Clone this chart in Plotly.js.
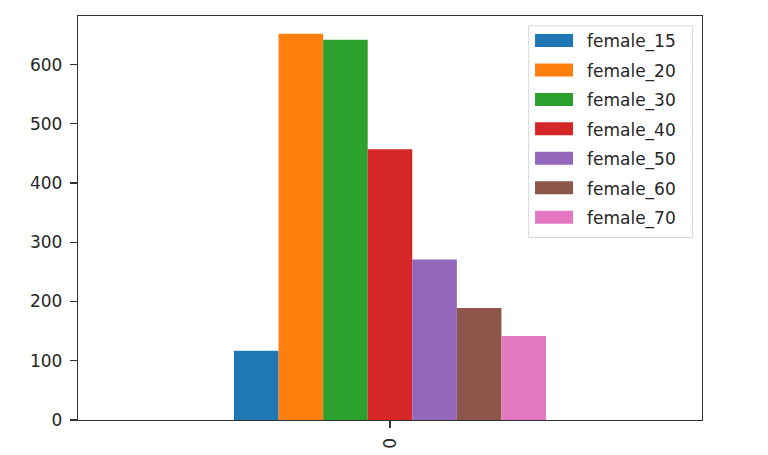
<!DOCTYPE html>
<html>
<head>
<meta charset="utf-8">
<script src="https://cdn.plot.ly/plotly-3.0.1.min.js"></script>
<style>
  html, body { margin: 0; padding: 0; background: #fff; }
  #chart { width: 768px; height: 455px; }
</style>
</head>
<body>
<div id="chart"></div>
<script>
// data
var categories = ['0'];
var seriesNames = ['female_15', 'female_20', 'female_30', 'female_40', 'female_50', 'female_60', 'female_70'];
var seriesValues = [117, 652, 642, 457, 271, 189, 142];
var seriesColors = ['#1f77b4', '#ff7f0e', '#2ca02c', '#d62728', '#9467bd', '#8c564b', '#e377c2'];
var yTicks = [0, 100, 200, 300, 400, 500, 600];

// plot area in pixels
var W = 768, H = 455;
var L = 77.5, R = 701.7, T = 15.5, B = 420;

function px(x) { return (x - L) / (R - L); }
function py(y) { return (B - y) / (B - T); }

var traces = seriesNames.map(function (name, i) {
    return {
        x: categories,
        y: [seriesValues[i]],
        name: name,
        type: 'bar',
        marker: { color: seriesColors[i], line: { width: 0 } },
        hoverinfo: 'none'
    };
});

// matplotlib-like legend drawn with shapes + annotations
var shapes = [{
    type: 'rect', xref: 'paper', yref: 'paper',
    x0: px(528.3), x1: px(692.3), y0: py(237.3), y1: py(25.3),
    line: { color: '#d9d9d9', width: 1 }, fillcolor: 'rgba(255,255,255,0.8)', layer: 'above'
}];
var annotations = [];
seriesNames.forEach(function (name, i) {
    var cy = 40 + i * 29.5;
    shapes.push({
        type: 'rect', xref: 'paper', yref: 'paper',
        x0: px(534.7), x1: px(572.7), y0: py(cy + 6.5), y1: py(cy - 6.5),
        line: { width: 0 }, fillcolor: seriesColors[i], layer: 'above'
    });
    annotations.push({
        xref: 'paper', yref: 'paper', x: px(585), y: py(cy + 1.5),
        xanchor: 'left', yanchor: 'middle', showarrow: false,
        text: name, font: { family: 'DejaVu Sans', size: 17, color: '#262626' }
    });
});

var layout = {
    width: W, height: H,
    margin: { l: L, r: W - R, t: T, b: H - B, pad: 0 },
    paper_bgcolor: '#fff', plot_bgcolor: '#fff',
    showlegend: false,
    barmode: 'group', bargap: 0.5, bargroupgap: 0,
    font: { family: 'DejaVu Sans', size: 17, color: '#262626' },
    xaxis: {
        type: 'category', range: [-0.5, 0.5],
        showgrid: false, zeroline: false,
        showline: true, mirror: true, linecolor: '#333', linewidth: 1.2,
        ticks: 'outside', ticklen: 7, tickcolor: '#333', tickwidth: 1.2,
        tickangle: -90, tickfont: { size: 17 }, ticklabelstandoff: 3
    },
    yaxis: {
        range: [0, 682], tickvals: yTicks, ticktext: yTicks.map(String),
        showgrid: false, zeroline: false,
        showline: true, mirror: true, linecolor: '#333', linewidth: 1.2,
        ticks: 'outside', ticklen: 7, tickcolor: '#333', tickwidth: 1.2,
        tickfont: { size: 17 }, ticklabelstandoff: 4
    },
    shapes: shapes,
    annotations: annotations
};

Plotly.newPlot('chart', traces, layout, { displayModeBar: false, staticPlot: true });
</script>
</body>
</html>
